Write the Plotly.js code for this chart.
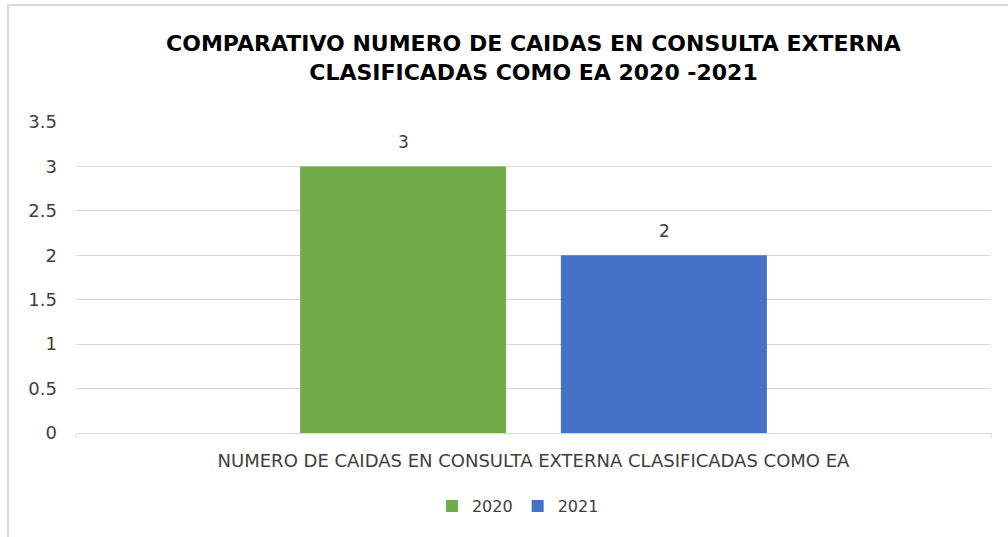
<!DOCTYPE html>
<html>
<head>
<meta charset="utf-8">
<script src="https://cdn.plot.ly/plotly-3.0.1.min.js"></script>
<style>html,body{margin:0;padding:0;background:#fff;}#chart{width:1008px;height:537px;}</style>
</head>
<body>
<div id="chart"></div>
<script>
const categories = ["NUMERO DE CAIDAS EN CONSULTA EXTERNA CLASIFICADAS COMO EA"];
const series2020 = [3];
const series2021 = [2];
const seriesNames = ["2020", "2021"];
const yTicks = [0, 0.5, 1, 1.5, 2, 2.5, 3, 3.5];
const yTickLabels = ["0", "0.5", "1", "1.5", "2", "2.5", "3", "3.5"];

const fontFam = "'DejaVu Sans', 'Liberation Sans', sans-serif";
const traces = [
  {type: 'bar', name: seriesNames[0], x: categories, y: series2020,
   marker: {color: '#70AD47'}, hoverinfo: 'none'},
  {type: 'bar', name: seriesNames[1], x: categories, y: series2021,
   marker: {color: '#4472C4'}, hoverinfo: 'none'}
];

const border = '#D9D9D9';
const labelFont = {size: 17, color: '#404040', family: fontFam};
const annotations = [
  {x: categories[0], y: series2020[0], text: String(series2020[0]), xref: 'x', yref: 'y',
   showarrow: false, xshift: -130.5, yshift: 24, font: labelFont},
  {x: categories[0], y: series2021[0], text: String(series2021[0]), xref: 'x', yref: 'y',
   showarrow: false, xshift: 130.5, yshift: 24, font: labelFont}
];

const layout = {
  width: 1008, height: 537,
  margin: {l: 76, r: 17, t: 122, b: 104},
  paper_bgcolor: '#fff', plot_bgcolor: '#fff',
  font: {family: fontFam, color: '#404040'},
  title: {text: '<b>COMPARATIVO NUMERO DE CAIDAS EN CONSULTA EXTERNA<br>CLASIFICADAS COMO EA 2020 -2021</b>',
    x: 0.5, xanchor: 'center', y: 0.905, yanchor: 'middle', xref: 'paper',
    font: {size: 22, color: '#000', family: fontFam}},
  barmode: 'group', bargap: 0.43, bargroupgap: 0.21,
  showlegend: true,
  legend: {orientation: 'h', x: 0.483, xanchor: 'center', y: -0.235, yanchor: 'middle',
    font: {size: 16, color: '#404040', family: fontFam}, itemwidth: 30, traceorder: 'normal'},
  annotations: annotations,
  xaxis: {type: 'category', showgrid: false, showline: true, linecolor: border, linewidth: 1,
    ticks: '', tickfont: {size: 18, color: '#404040', family: fontFam}, ticklabelstandoff: 11,
    fixedrange: true},
  yaxis: {range: [0, 3.5], tickvals: yTicks, ticktext: yTickLabels, showgrid: true, gridcolor: border,
    gridwidth: 1, zeroline: false, showline: false, ticks: '',
    tickfont: {size: 18, color: '#404040', family: fontFam}, ticklabelstandoff: 18, fixedrange: true},
  shapes: [
    {type: 'line', xref: 'paper', yref: 'paper', x0: 0, x1: 0, y0: 0, y1: -0.016, line: {color: border, width: 1}},
    {type: 'line', xref: 'paper', yref: 'paper', x0: 1, x1: 1, y0: 0, y1: -0.016, line: {color: border, width: 1}},
    {type: 'rect', xref: 'paper', yref: 'paper', x0: -0.0743, x1: 1.1, y0: -0.5, y1: 1.376,
     line: {color: border, width: 2}, fillcolor: 'rgba(0,0,0,0)', layer: 'below'}
  ]
};
Plotly.newPlot('chart', traces, layout, {displayModeBar: false, staticPlot: true});
</script>
</body>
</html>
